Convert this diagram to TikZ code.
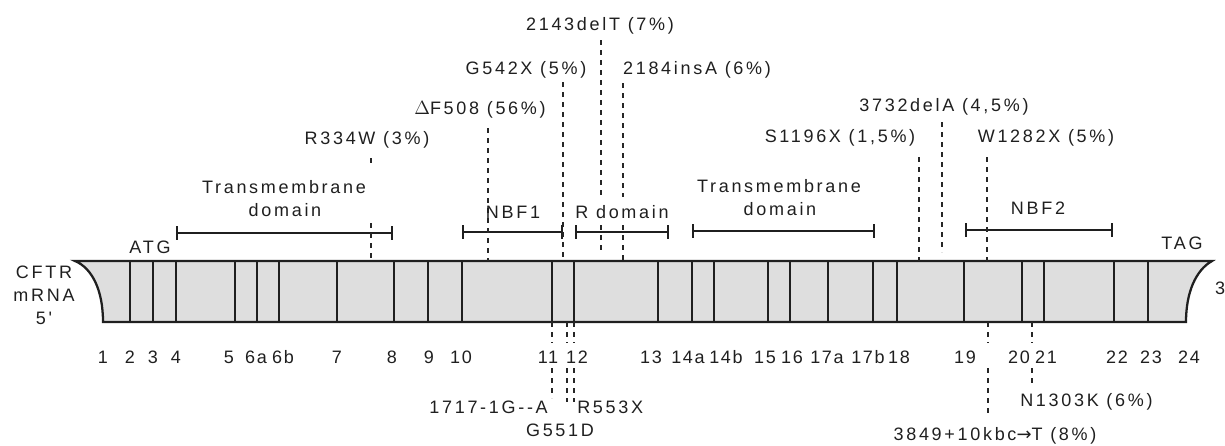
\documentclass[tikz,border=0pt]{standalone}
\usepackage{fontspec}
\usetikzlibrary{arrows.meta}
\newfontfamily\lblfont{Liberation Sans}[LetterSpace=15]
\newfontfamily\numfont{Liberation Sans}[LetterSpace=9]
\newfontfamily\arrfont{DejaVu Sans}
\begin{document}
\begin{tikzpicture}[x=0.75pt,y=0.75pt,yscale=-1,xscale=1,
  lbl/.style={font=\lblfont\fontsize{13.5}{15}\selectfont, text=black!88, inner sep=0pt},
  num/.style={font=\numfont\fontsize{13.5}{15}\selectfont, text=black!88, inner sep=0pt},
  exon/.style={line width=2pt, color=black!88},
  mut/.style={line width=1.4pt, dash pattern=on 3.5pt off 4pt, color=black!85},
  domspan/.style={line width=1.2pt, color=black!88, {Bar[width=10pt]}-{Bar[width=10pt]}}]
\useasboundingbox (0,0) rectangle (1225,446);

%Shape: mRNA bar
\draw [line width=1.7pt, color=black!88, fill=black!13] (75,261) -- (1212,261) .. controls (1196,270) and (1186,292) .. (1186,322) -- (103,322) .. controls (103,290) and (92,268) .. (75,261) -- cycle ;

%Straight Lines: exon borders
\draw [exon] (130,261) -- (130,322) ;
\draw [exon] (153,261) -- (153,322) ;
\draw [exon] (176,261) -- (176,322) ;
\draw [exon] (235,261) -- (235,322) ;
\draw [exon] (257,261) -- (257,322) ;
\draw [exon] (279,261) -- (279,322) ;
\draw [exon] (337,261) -- (337,322) ;
\draw [exon] (394,261) -- (394,322) ;
\draw [exon] (428,261) -- (428,322) ;
\draw [exon] (462,261) -- (462,322) ;
\draw [exon] (552,261) -- (552,322) ;
\draw [exon] (574,261) -- (574,322) ;
\draw [exon] (658,261) -- (658,322) ;
\draw [exon] (692,261) -- (692,322) ;
\draw [exon] (714,261) -- (714,322) ;
\draw [exon] (768,261) -- (768,322) ;
\draw [exon] (790,261) -- (790,322) ;
\draw [exon] (828,261) -- (828,322) ;
\draw [exon] (873,261) -- (873,322) ;
\draw [exon] (897,261) -- (897,322) ;
\draw [exon] (964,261) -- (964,322) ;
\draw [exon] (1022,261) -- (1022,322) ;
\draw [exon] (1044,261) -- (1044,322) ;
\draw [exon] (1114,261) -- (1114,322) ;
\draw [exon] (1148,261) -- (1148,322) ;

%Straight Lines: domain brackets
\coordinate (tm1l) at (176,233) ; \coordinate (tm1r) at (393,233) ;
\coordinate (nbf1l) at (462,232) ; \coordinate (nbf1r) at (563,232) ;
\coordinate (rdl) at (575,232) ; \coordinate (rdr) at (669,232) ;
\coordinate (tm2l) at (692,231) ; \coordinate (tm2r) at (875,231) ;
\coordinate (nbf2l) at (965,230) ; \coordinate (nbf2r) at (1113,230) ;
\draw [domspan] (tm1l) -- (tm1r) ;
\draw [domspan] (nbf1l) -- (nbf1r) ;
\draw [domspan] (rdl) -- (rdr) ;
\draw [domspan] (tm2l) -- (tm2r) ;
\draw [domspan] (nbf2l) -- (nbf2r) ;

% Text Node: mutations above
\draw (367,140) node [lbl] (r334w) {R334W (3\%)};
\draw (480,110) node [lbl] (df508) {$\Delta$F508 (56\%)};
\draw (526,70) node [lbl] (g542x) {G542X (5\%)};
\draw (600,26) node [lbl] (d2143) {2143delT (7\%)};
\draw (697,70) node [lbl] (i2184) {2184insA (6\%)};
\draw (840,138) node [lbl] (s1196x) {S1196X (1,5\%)};
\draw (944,107) node [lbl] (d3732) {3732delA (4,5\%)};
\draw (1046,138) node [lbl] (w1282x) {W1282X (5\%)};

% Text Node: mutations below
\draw (548,407) node [lbl, anchor=east] (m1717) {1717-1G--A};
\draw (577,407) node [lbl, anchor=west] (r553x) {R553X};
\draw (560,430) node [lbl] (g551d) {G551D};
\draw (1020,402) node [lbl, anchor=west] (n1303k) {N1303K (6\%)};
\draw (995,436) node [lbl] (m3849) {3849+10kbc{\arrfont →}T (8\%)};

%Straight Lines: dashed markers above (broken at the domain labels)
\coordinate (a1) at (371,158) ; \coordinate (b1) at (371,261) ;
\coordinate (a2) at (488,128) ; \coordinate (b2) at (488,261) ;
\coordinate (a3) at (563,82) ; \coordinate (b3) at (563,261) ;
\coordinate (a4) at (601,40) ; \coordinate (b4) at (601,250) ;
\coordinate (a5) at (623,83) ; \coordinate (b5) at (623,261) ;
\coordinate (a6) at (919,157) ; \coordinate (b6) at (919,261) ;
\coordinate (a7) at (942,122) ; \coordinate (b7) at (942,252) ;
\coordinate (a8) at (987,157) ; \coordinate (b8) at (987,261) ;
\draw [mut] (a1) -- (a1 |- 0,167) (a1 |- 0,223) -- (b1) ;
\draw [mut] (a2) -- (b2) ;
\draw [mut] (a3) -- (b3) ;
\draw [mut] (a4) -- (a4 |- 0,197) (a4 |- 0,225) -- (b4) ;
\draw [mut] (a5) -- (a5 |- 0,197) (a5 |- 0,225) -- (b5) ;
\draw [mut] (a6) -- (b6) ;
\draw [mut] (a7) -- (b7) ;
\draw [mut] (a8) -- (b8) ;

%Straight Lines: dashed markers below (broken at the exon numbers)
\coordinate (c1) at (552,322) ; \coordinate (d1) at (552,398) ;
\coordinate (c2) at (567,322) ; \coordinate (d2) at (567,402) ;
\coordinate (c3) at (574,322) ; \coordinate (d3) at (574,402) ;
\coordinate (c4) at (988,322) ; \coordinate (d4) at (988,417) ;
\coordinate (c5) at (1032,322) ; \coordinate (d5) at (1032,385) ;
\draw [mut] (c1) -- (c1 |- 0,343) (c1 |- 0,368) -- (d1) ;
\draw [mut] (c2) -- (c2 |- 0,343) (c2 |- 0,368) -- (d2) ;
\draw [mut] (c3) -- (c3 |- 0,343) (c3 |- 0,368) -- (d3) ;
\draw [mut] (c4) -- (c4 |- 0,343) (c4 |- 0,368) -- (d4) ;
\draw [mut] (c5) -- (c5 |- 0,343) (c5 |- 0,368) -- (d5) ;

% Text Node: domains
\draw (284,187) node [lbl] (tm1a) {Transmembrane};
\draw (285,210) node [lbl] (tm1b) {domain};
\draw (513,212) node [lbl] (nbf1) {NBF1};
\draw (622,212) node [lbl] (rdom) {R domain};
\draw (779,186) node [lbl] (tm2a) {Transmembrane};
\draw (780,209) node [lbl] (tm2b) {domain};
\draw (1038,208) node [lbl] (nbf2) {NBF2};

% Text Node: ends
\draw (44,272) node [lbl] (cftr) {CFTR};
\draw (44,295) node [lbl] (mrna) {mRNA};
\draw (44,318) node [lbl] (five) {5'};
\draw (150,247) node [lbl] (atg) {ATG};
\draw (1182,243) node [lbl] (tag) {TAG};
\draw (1220,288) node [lbl] (three) {3};

% Text Node: exon numbers
\draw (103,357) node [num] (e1) {1};
\draw (130,357) node [num] (e2) {2};
\draw (153,357) node [num] (e3) {3};
\draw (176,357) node [num] (e4) {4};
\draw (229,357) node [num] (e5) {5};
\draw (256,357) node [num] (e6a) {6a};
\draw (283,357) node [num] (e6b) {6b};
\draw (337,357) node [num] (e7) {7};
\draw (392,357) node [num] (e8) {8};
\draw (429,357) node [num] (e9) {9};
\draw (461,357) node [num] (e10) {10};
\draw (548,357) node [num] (e11) {11};
\draw (577,357) node [num] (e12) {12};
\draw (651,357) node [num] (e13) {13};
\draw (688,357) node [num] (e14a) {14a};
\draw (726,357) node [num] (e14b) {14b};
\draw (765,357) node [num] (e15) {15};
\draw (792,357) node [num] (e16) {16};
\draw (827,357) node [num] (e17a) {17a};
\draw (868,357) node [num] (e17b) {17b};
\draw (899,357) node [num] (e18) {18};
\draw (965,357) node [num] (e19) {19};
\draw (1019,357) node [num] (e20) {20};
\draw (1046,357) node [num] (e21) {21};
\draw (1117,357) node [num] (e22) {22};
\draw (1151,357) node [num] (e23) {23};
\draw (1189,357) node [num] (e24) {24};

\end{tikzpicture}
\end{document}
